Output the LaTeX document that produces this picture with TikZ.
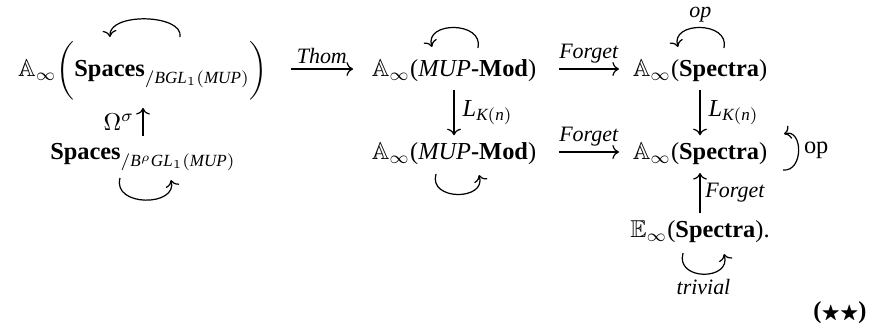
\documentclass[tikz,border=0pt]{standalone}
\usepackage{amsmath}
\usepackage{amssymb}
\usepackage{fontspec}
\setmainfont{Liberation Serif}
\usepackage{tikz}
\usetikzlibrary{arrows.meta,calc,positioning}
\tikzset{
  obj/.style      = {anchor=base, inner sep=3pt},
  cdarrow/.style  = {-{Computer Modern Rightarrow}, line width=0.5pt},
  selfloop/.style = {-{Computer Modern Rightarrow}, line width=0.5pt},
  lbl/.style      = {font=\small, inner sep=2pt},
}
\newcommand{\mv}[1]{\textit{#1}}

\begin{document}
\begin{tikzpicture}[x=0.41pt,y=-0.41pt]
  \useasboundingbox (0,0) rectangle (870,326);

  % objects
  \node[obj] (tl) at (143,77) {$\mathbb{A}_\infty\biggl(\textbf{Spaces}_{/\mv{BGL}_1(\mv{MUP})}\biggr)$};
  \node[obj] (bl) at (143,160) {$\textbf{Spaces}_{/\mv{B}^{\rho}\mv{GL}_1(\mv{MUP})}$};
  \node[obj] (tm) at (454,77) {$\mathbb{A}_\infty$(\mv{MUP}\textbf{-Mod})};
  \node[obj] (bm) at (454,160) {$\mathbb{A}_\infty$(\mv{MUP}\textbf{-Mod})};
  \node[obj] (tr) at (700,77) {$\mathbb{A}_\infty$(\textbf{Spectra})};
  \node[obj] (br) at (700,160) {$\mathbb{A}_\infty$(\textbf{Spectra})};
  \node[obj] (er) at (700,238) {$\mathbb{E}_\infty$(\textbf{Spectra}).};

  % maps
  \draw[cdarrow] ([shift={(15,-8)}]tl.base east) -- node[lbl,above] {\mv{Thom}} ([shift={(-11,-8)}]tm.base west);
  \draw[cdarrow] ([shift={(15,-8)}]tm.base east) -- node[lbl,above] {\mv{Forget}} ([shift={(-6,-8)}]tr.base west);
  \draw[cdarrow] ([shift={(15,-8)}]bm.base east) -- node[lbl,above] {\mv{Forget}} ([shift={(-6,-8)}]br.base west);
  \draw[cdarrow] (bl.north) -- node[left] {$\Omega^\sigma$} (bl.north |- tl.south);
  \draw[cdarrow] (tm.south) -- node[right] {$\mv{L}_{\mv{K}(\mv{n})}$} (tm.south |- bm.north);
  \draw[cdarrow] (tr.south) -- node[right] {$\mv{L}_{\mv{K}(\mv{n})}$} (tr.south |- br.north);
  \draw[cdarrow] (er.north) -- node[lbl,right] {\mv{Forget}} (er.north |- br.south);

  % actions
  \draw[selfloop] ([shift={(37,-40)}]tl.base) .. controls +(4,-23) and +(-2,-25) .. ([shift={(-33,-40)}]tl.base);
  \draw[selfloop] ([shift={(-23,18)}]bl.base) .. controls +(-8,29) and +(7,27) .. ([shift={(28,20)}]bl.base);
  \draw[selfloop] ([shift={(24,-29)}]tm.base) .. controls +(6,-27) and +(-8,-26) .. ([shift={(-22,-30)}]tm.base);
  \draw[selfloop] ([shift={(-18,14)}]bm.base) .. controls +(-8,27) and +(8,26) .. ([shift={(25,15)}]bm.base);
  \draw[selfloop] ([shift={(24,-29)}]tr.base) .. controls +(6,-27) and +(-8,-26) .. node[lbl,above] {\mv{op}} ([shift={(-22,-30)}]tr.base);
  \draw[selfloop] ([shift={(83,10)}]br.base) .. controls +(21,2) and +(19,-6) .. node[right,inner sep=2pt] {op} ([shift={(84,-26)}]br.base);
  \draw[selfloop] ([shift={(-17,15)}]er.base) .. controls +(-8,28) and +(8,27) .. node[lbl,below] {\mv{trivial}} ([shift={(24,16)}]er.base);

  \node (tag) at (840,313) {\textbf{(}{\footnotesize$\bigstar\bigstar$}\textbf{)}};
\end{tikzpicture}
\end{document}
